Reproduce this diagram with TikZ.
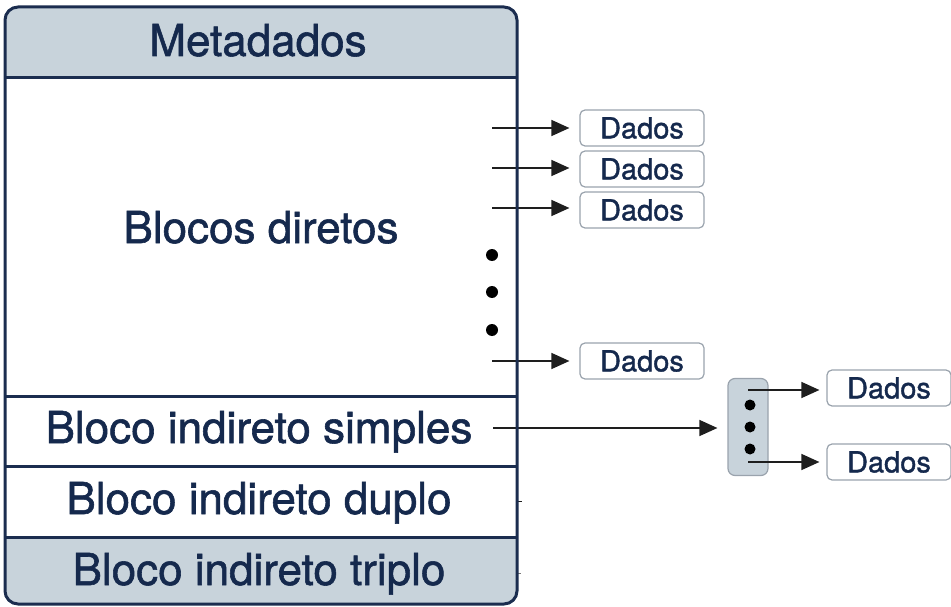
\documentclass[tikz,border=0pt]{standalone}
\usepackage{fontspec}
\setmainfont{TeX Gyre Heros}[FakeBold=1.3]
\usetikzlibrary{arrows.meta}
\definecolor{navy}{HTML}{1B2D4F}
\definecolor{txt}{HTML}{15294D}
\definecolor{head}{HTML}{C8D3DB}
\definecolor{dbord}{HTML}{9AA3AD}
\definecolor{arr}{HTML}{1E1E1E}
\tikzset{
  big/.style={text=txt,font=\fontsize{44}{50}\selectfont,inner sep=0pt,anchor=base},
  dados/.style={draw=dbord,line width=1.2pt,fill=white,rounded corners=5pt,minimum width=124pt,minimum height=36pt,inner sep=0pt,text=txt,font=\fontsize{29}{32}\selectfont},
  ptr/.style={draw=arr,line width=1.5pt,-{Triangle[length=18pt,width=16pt]}},
  dot/.style={circle,fill=black,inner sep=0pt,minimum size=12pt},
  sdot/.style={circle,fill=black,inner sep=0pt,minimum size=11pt},
  divider/.style={draw=navy,line width=3pt}
}
\begin{document}
\begin{tikzpicture}[x=1pt,y=-1pt]
\useasboundingbox (0,0) rectangle (951,607);
% main box fills
\begin{scope}
\clip[rounded corners=13pt] (5,7) rectangle (517,604);
\fill[head] (5,7) rectangle (517,78);
\fill[white] (5,78) rectangle (517,537);
\fill[head] (5,537) rectangle (517,604);
\end{scope}
% dividers
\draw[divider] (5,78) -- (517,78);
\draw[divider] (5,396) -- (517,396);
\draw[divider] (5,466) -- (517,466);
\draw[divider] (5,537) -- (517,537);
% section labels
\node[big] (meta) at (258,56) {Metadados};
\node[big] (dir) at (261,243) {Blocos diretos};
\node[big] (simp) at (259,443) {Bloco indireto simples};
\node[big] (dup) at (259,514) {Bloco indireto duplo};
\node[big] (tri) at (259,585) {Bloco indireto triplo};
% Dados boxes
\node[dados] (d1) at (642,128) {Dados};
\node[dados] (d2) at (642,169) {Dados};
\node[dados] (d3) at (642,210) {Dados};
\node[dados] (d4) at (642,361) {Dados};
\node[dados] (d5) at (889,388) {Dados};
\node[dados] (d6) at (889,462) {Dados};
% indirect block
\node[draw=dbord,line width=1.2pt,fill=head,rounded corners=7pt,minimum width=40pt,minimum height=97pt,inner sep=0pt] (ib) at (748,427) {};
\node[sdot] (i1) at (750,405) {};
\node[sdot] (i2) at (750,427) {};
\node[sdot] (i3) at (750,449) {};
% pointer sources
\coordinate (s1) at (492,128);
\coordinate (s2) at (492,168);
\coordinate (s3) at (492,208);
\coordinate (s4) at (492,361);
\coordinate (s5) at (493,428);
\coordinate (t1) at (748,390);
\coordinate (t2) at (748,462);
% dots
\node[dot] (p1) at (492,255) {};
\node[dot] (p2) at (492,292) {};
\node[dot] (p3) at (492,330) {};
% arrows
\draw[ptr,shorten >=10pt] (s1) -- (s1 -| d1.west);
\draw[ptr,shorten >=10pt] (s2) -- (s2 -| d2.west);
\draw[ptr,shorten >=10pt] (s3) -- (s3 -| d3.west);
\draw[ptr,shorten >=10pt] (s4) -- (s4 -| d4.west);
\draw[ptr,shorten >=10pt] (s5) -- (s5 -| ib.west);
\draw[ptr,shorten >=7pt] (t1) -- (t1 -| d5.west);
\draw[ptr,shorten >=7pt] (t2) -- (t2 -| d6.west);
% small ticks
\coordinate (k1) at (517,501);
\coordinate (k2) at (517,573);
\draw[arr,line width=1pt] (k1) -- ++(5,0);
\draw[arr!60,line width=1pt] (k2) -- ++(4,0);
% outline
\draw[navy,line width=3pt,rounded corners=13pt] (5,7) rectangle (517,604);
\end{tikzpicture}
\end{document}
